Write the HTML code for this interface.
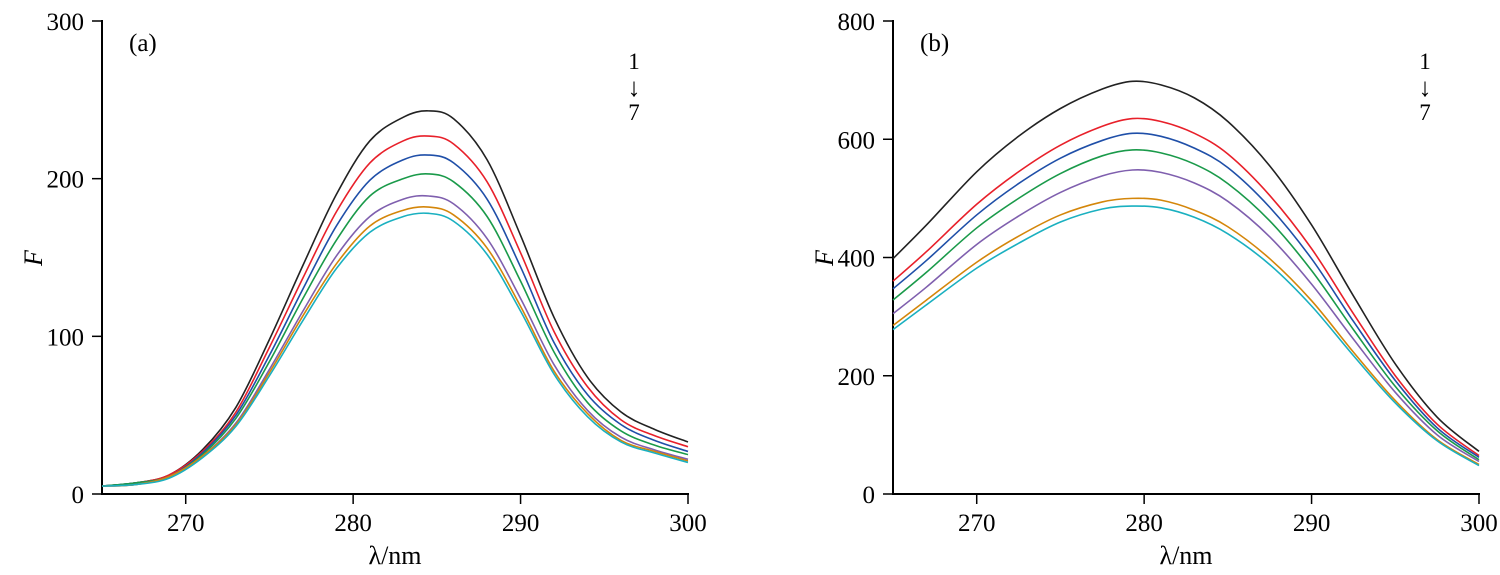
<!DOCTYPE html>
<html><head><meta charset="utf-8"><style>
body{margin:0;background:#fff}
svg{display:block;font-family:"Liberation Serif",serif}
</style></head><body>
<svg id="c" width="1500" height="575"></svg>
<script>
const colors=["#222222","#e8202a","#1f4fa8","#1a9a4a","#7f5fae","#d4860a","#1ab0c0"];
const xA=[265,267,269,271,273,275,277,279,281,283,284.5,286,288,290,292,294,296,298,300];
const a1=[5,7,12,28,55,98,145,190,224,239,243,238,212,164,112,74,52,41,33];
const a2=[5,7,12,27,52,93,137,179,210,224,227,222,198,153,103,68,47,37,30];
const a3=[5,7,11,26,50,88,130,170,199,212,215,210,187,144,96,63,44,34,27];
const a4=[5,7,11,25,48,84,124,161,189,200,203,198,176,135,90,58,40,31,25];
const a5=[5,6,11,24,45,79,116,151,176,187,189,184,162,124,82,53,36,28,22];
const a6=[5,6,11,24,44,77,113,146,170,180,182,177,156,119,78,51,34,27,21];
const a7=[5,6,10,23,43,75,110,143,166,176,178,173,152,116,76,49,33,26,20];
const xB=[265,267,270,272.5,275,277.5,279.3,281,283,285,287.5,290,292.5,295,297.5,300];
const b1=[398,455,545,605,652,685,698,692,670,630,555,455,335,220,130,72];
const b2=[360,410,490,545,590,622,635,630,610,575,505,415,305,200,118,65];
const b3=[347,395,472,525,568,598,610,605,585,552,485,398,292,192,112,62];
const b4=[328,375,450,500,542,572,582,577,558,525,462,378,278,182,107,58];
const b5=[305,350,422,470,510,538,548,544,526,495,435,355,262,172,100,55];
const b6=[285,328,392,436,472,494,500,497,480,452,398,327,240,158,92,50];
const b7=[278,320,382,424,460,482,487,484,468,440,388,318,234,154,90,48];
const xTicks=[270,280,290,300];
const yTicksA=[0,100,200,300];
const yTicksB=[0,200,400,600,800];
const NS="http://www.w3.org/2000/svg";
const svg=document.getElementById('c');
function el(t,at,txt){const e=document.createElementNS(NS,t);for(const k in at)e.setAttribute(k,at[k]);if(txt!==undefined)e.textContent=txt;svg.appendChild(e);return e;}
function panel(p){
  const sx=v=>p.x0+(v-265)/(300-265)*(p.x1-p.x0);
  const sy=v=>494-v/p.ymax*(494-21);
  let e=el('line',{x1:p.x0,y1:494,x2:p.x1+1,y2:494,stroke:'#000','stroke-width':2});
  
  e=el('line',{x1:p.x0,y1:20,x2:p.x0,y2:495,stroke:'#000','stroke-width':2});
  
  xTicks.forEach(t=>{
    el('line',{x1:sx(t),y1:494,x2:sx(t),y2:504,stroke:'#000','stroke-width':1.5});
    e=el('text',{x:sx(t),y:531,'font-size':25,'text-anchor':'middle'},t);
    
  });
  p.yt.forEach(t=>{
    el('line',{x1:p.x0-10,y1:sy(t),x2:p.x0,y2:sy(t),stroke:'#000','stroke-width':1.5});
    e=el('text',{x:p.x0-18,y:sy(t)+9,'font-size':25,'text-anchor':'end'},t);
    
  });
  p.series.forEach((s,i)=>{
    const pts=p.xs.map((x,j)=>[sx(x),sy(s[j])]);
    let d='M'+pts[0][0]+','+pts[0][1];
    for(let j=0;j<pts.length-1;j++){
      const p0=pts[Math.max(j-1,0)],p1=pts[j],p2=pts[j+1],p3=pts[Math.min(j+2,pts.length-1)];
      d+=' C'+(p1[0]+(p2[0]-p0[0])/6)+','+(p1[1]+(p2[1]-p0[1])/6)+' '+(p2[0]-(p3[0]-p1[0])/6)+','+(p2[1]-(p3[1]-p1[1])/6)+' '+p2[0]+','+p2[1];
    }
    const c=el('path',{d:d,fill:'none',stroke:colors[i],'stroke-width':1.6});
    
    
  });
  e=el('text',{x:(p.x0+p.x1)/2,y:564,'font-size':26,'text-anchor':'middle'},'λ/nm');
  
  e=el('text',{x:p.x0-68,y:266,'font-size':26,'font-style':'italic','transform':'rotate(-90 '+(p.x0-68)+' 258)','text-anchor':'middle'},'F');
  
  e=el('text',{x:p.x0+27,y:51,'font-size':25},p.label);
  
  [['1',69],['↓',96],['7',120]].forEach(q=>{
    e=el('text',{x:p.x0+532,y:q[1],'font-size':q[0]==='↓'?26:23,'text-anchor':'middle'},q[0]);
    
  });
}
panel({id:'panel-a',x0:102,x1:688,ymax:300,yt:yTicksA,xs:xA,series:[a1,a2,a3,a4,a5,a6,a7],label:'(a)'});
panel({id:'panel-b',x0:893,x1:1479,ymax:800,yt:yTicksB,xs:xB,series:[b1,b2,b3,b4,b5,b6,b7],label:'(b)'});
</script>
</body></html>
